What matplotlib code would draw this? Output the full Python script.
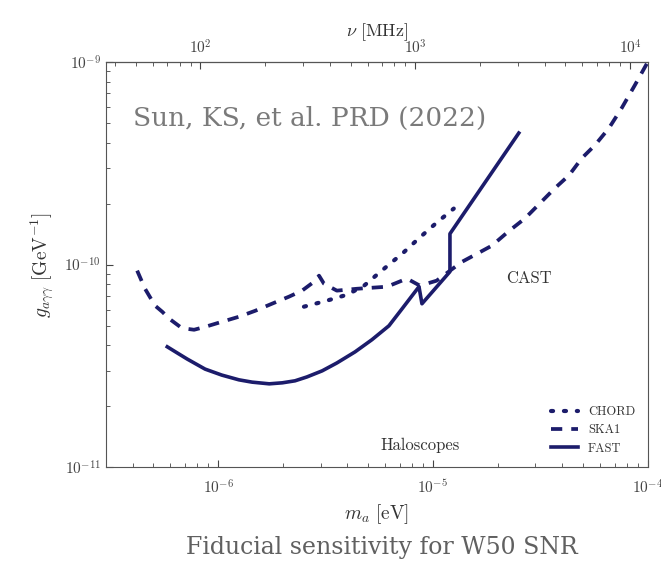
import numpy as np
import matplotlib
matplotlib.use("Agg")
import matplotlib.pyplot as plt
from matplotlib.ticker import FuncFormatter, LogLocator, NullFormatter

plt.rcParams['mathtext.fontset'] = 'cm'
plt.rcParams['axes.formatter.use_mathtext'] = True

# curve values (m_a in eV, g in GeV^-1)
ska_m = [4.20e-7, 4.38e-7, 4.57e-7, 5.09e-7, 5.50e-7, 5.92e-7, 6.66e-7, 7.18e-7,
         7.73e-7, 8.70e-7, 1.04e-6, 1.25e-6, 1.49e-6, 1.78e-6, 2.14e-6, 2.46e-6,
         2.80e-6, 2.95e-6, 3.11e-6, 3.57e-6, 4.43e-6, 6.11e-6, 7.57e-6, 8.70e-6,
         1.04e-5, 1.36e-5, 1.60e-5, 1.88e-5, 2.25e-5, 2.68e-5, 3.21e-5, 3.69e-5,
         4.30e-5, 4.93e-5, 5.67e-5, 6.59e-5, 7.56e-5, 8.71e-5, 1.0e-4]
ska_g = [9.34e-11, 8.43e-11, 7.60e-11, 6.27e-11, 5.85e-11, 5.41e-11, 4.93e-11, 4.82e-11,
         4.77e-11, 4.93e-11, 5.22e-11, 5.53e-11, 5.92e-11, 6.41e-11, 6.95e-11, 7.44e-11,
         8.24e-11, 8.82e-11, 8.05e-11, 7.44e-11, 7.60e-11, 7.78e-11, 8.53e-11, 7.87e-11,
         8.33e-11, 1.03e-10, 1.13e-10, 1.24e-10, 1.46e-10, 1.69e-10, 2.05e-10, 2.38e-10,
         2.76e-10, 3.35e-10, 3.88e-10, 4.71e-10, 5.92e-10, 7.69e-10, 1.0e-9]

fast_m = [5.80e-7, 6.44e-7, 7.18e-7, 8.70e-7, 1.04e-6, 1.25e-6, 1.44e-6, 1.73e-6,
          1.99e-6, 2.28e-6, 2.59e-6, 3.05e-6, 3.57e-6, 4.34e-6, 5.20e-6, 6.24e-6,
          7.18e-6, 8.61e-6, 8.89e-6, 1.20e-5, 1.20e-5, 2.51e-5]
fast_g = [3.93e-11, 3.67e-11, 3.42e-11, 3.05e-11, 2.85e-11, 2.70e-11, 2.63e-11, 2.58e-11,
          2.61e-11, 2.67e-11, 2.79e-11, 2.99e-11, 3.27e-11, 3.71e-11, 4.26e-11, 4.99e-11,
          6.05e-11, 7.78e-11, 6.41e-11, 9.23e-11, 1.42e-10, 4.46e-10]

chord_m = [2.51e-6, 3.21e-6, 3.98e-6, 4.78e-6, 5.49e-6, 6.45e-6, 7.18e-6, 8.61e-6,
           1.04e-5, 1.25e-5]
chord_g = [6.20e-11, 6.64e-11, 7.10e-11, 7.87e-11, 8.92e-11, 1.03e-10, 1.13e-10, 1.35e-10,
           1.61e-10, 1.89e-10]

m_lim = (3.0e-7, 1.0e-4)
g_lim = (1e-11, 1e-9)

# nu = m_a / (2h), in MHz
MHZ_PER_EV = 2.418e8 / 2


def m2nu(m):
    return np.asarray(m) * MHZ_PER_EV


def nu2m(nu):
    return np.asarray(nu) / MHZ_PER_EV


color = '#1c1c6b'

fig = plt.figure(figsize=(6.61, 5.74), dpi=100)
ax = fig.add_axes([0.160, 0.186, 0.820, 0.706])

ax.plot(chord_m, chord_g, color=color, lw=3, linestyle=(0, (0.5, 2.6)),
        dash_capstyle='round', label='CHORD')
ax.plot(ska_m, ska_g, color=color, lw=2.7, linestyle=(0, (3.0, 2.4)), label='SKA1')
ax.plot(fast_m, fast_g, color=color, lw=2.6, label='FAST')

ax.set_xscale('log')
ax.set_yscale('log')
ax.set_xlim(*m_lim)
ax.set_ylim(*g_lim)

pow_fmt = FuncFormatter(lambda v, p: r'$10^{%d}$' % round(np.log10(v)))
ax.xaxis.set_major_formatter(pow_fmt)
ax.yaxis.set_major_formatter(pow_fmt)
ax.xaxis.set_minor_formatter(NullFormatter())
ax.yaxis.set_minor_formatter(NullFormatter())
ax.tick_params(which='both', direction='in', colors='#444444', labelsize=11)
ax.tick_params(which='major', length=5)
ax.tick_params(which='minor', length=3)
ax.tick_params(axis='x', pad=8)
for s in ax.spines.values():
    s.set_color('#555555')

sec = ax.secondary_xaxis('top', functions=(m2nu, nu2m))
sec.xaxis.set_major_locator(LogLocator(base=10))
sec.xaxis.set_major_formatter(pow_fmt)
sec.xaxis.set_minor_formatter(NullFormatter())
sec.tick_params(which='both', direction='in', colors='#444444', labelsize=11)
sec.tick_params(which='major', length=5)
sec.tick_params(which='minor', length=3)
sec.set_xlabel(r'$\nu\ [\mathrm{MHz}]$', fontsize=13, color='#333333', labelpad=2)

ax.set_xlabel(r'$m_a\ [\mathrm{eV}]$', fontsize=14, color='#333333', labelpad=4)
ax.set_ylabel(r'$g_{a\gamma\gamma}\ [\mathrm{GeV}^{-1}]$', fontsize=14, color='#333333',
              labelpad=6)

ax.text(0.05, 0.86, 'Sun, KS, et al. PRD (2022)', transform=ax.transAxes,
        fontsize=19, color='#7a7a7a', family='DejaVu Serif', va='center')
ax.text(0.78, 0.465, 'CAST', transform=ax.transAxes, fontsize=12,
        color='#333333', family='cmr10', va='center', ha='center')
ax.text(0.58, 0.055, 'Haloscopes', transform=ax.transAxes, fontsize=12,
        color='#333333', family='cmr10', va='center', ha='center')

leg = ax.legend(loc='lower right', frameon=False, handlelength=2.2,
                prop={'family': 'cmr10', 'size': 9}, labelspacing=0.5,
                borderaxespad=0.6)
for t in leg.get_texts():
    t.set_color('#333333')

fig.text(0.578, 0.047, 'Fiducial sensitivity for W50 SNR', ha='center', va='center',
         fontsize=17, color='#606060', family='DejaVu Serif')

fig.savefig('out.png', dpi=100)
